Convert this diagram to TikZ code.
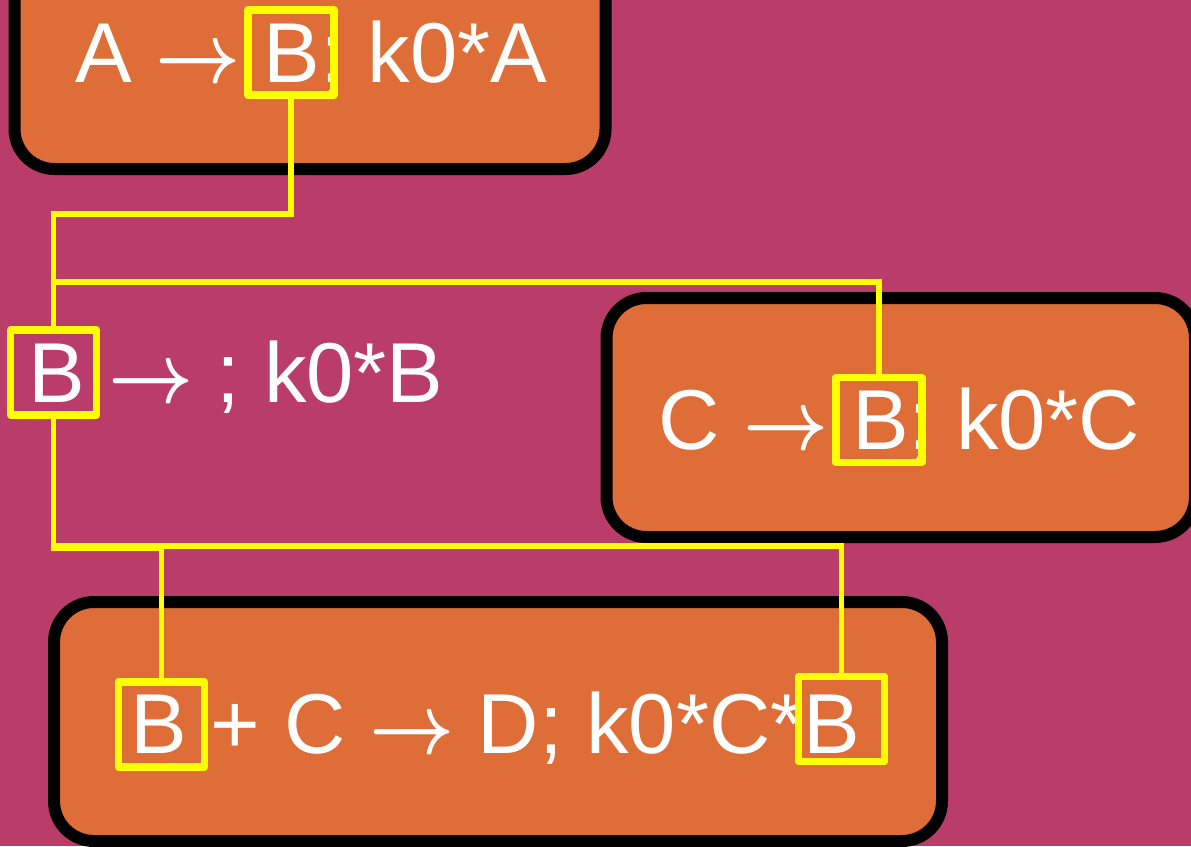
\documentclass[tikz,border=0pt]{standalone}
\usepackage{graphicx}
\usepackage{fontspec}
\setmainfont{Liberation Sans}
\definecolor{bgc}{RGB}{186,61,105}
\definecolor{boxc}{RGB}{222,109,56}
\definecolor{ylw}{RGB}{255,255,0}
\newcommand{\myarrow}{\resizebox{85pt}{8.5\height}{\fontsize{10}{12}\selectfont\boldmath$\rightarrow$}}
\tikzset{
  rxnbox/.style={draw=black, line width=12pt, fill=boxc, rounded corners=40pt},
  ybox/.style={draw=ylw, line width=7.5pt, minimum width=86pt, minimum height=85pt,
               inner sep=0pt, outer sep=0pt, line join=round},
  rxn/.style={anchor=base west, inner sep=0pt, outer sep=0pt, text=white,
              font=\fontsize{85}{100}\selectfont},
  link/.style={draw=ylw, line width=5.5pt}
}
\begin{document}
\begin{tikzpicture}[x=1pt,y=-1pt]
\useasboundingbox (0,0) rectangle (1191,846);
\clip (0,0) rectangle (1191,846);
\fill[bgc] (0,0) rectangle (1191,846);
% reaction boxes
\draw[rxnbox] (14.5,-100) rectangle (605.5,169);
\draw[rxnbox] (606.5,298) rectangle (1195,537);
\draw[rxnbox] (54,602) rectangle (942,841);
% reaction texts
\node[rxn] (t1) at (75,82) {A \myarrow{} B; k0*A};
\node[rxn] (t2) at (28,402) {B \myarrow{} ; k0*B};
\node[rxn] (t3) at (658.6,449) {C \myarrow{} B; k0*C};
\node[rxn] (t4) at (130.6,753) {B + C \myarrow{} D; k0*C*B};
% highlighted species
\node[ybox] (bA) at (291,52.5) {};
\node[ybox] (bB) at (53.5,372.5) {};
\node[ybox] (bC) at (879,420) {};
\node[ybox] (bD1) at (161.5,724.5) {};
\node[ybox] (bD2) at (841.5,719) {};
% junctions
\coordinate (j1) at (53.5,282);
\coordinate (j2) at (53.5,546);
% connectors
\draw[link] (bA.south) -- ++(0,119) -| (bB.north);
\draw[link] (bC.north) |- (j1);
\draw[link] (bB.south) -- ++(0,133.5) -| (bD1.north);
\draw[link] (bD2.north) |- (j2);
\end{tikzpicture}
\end{document}
